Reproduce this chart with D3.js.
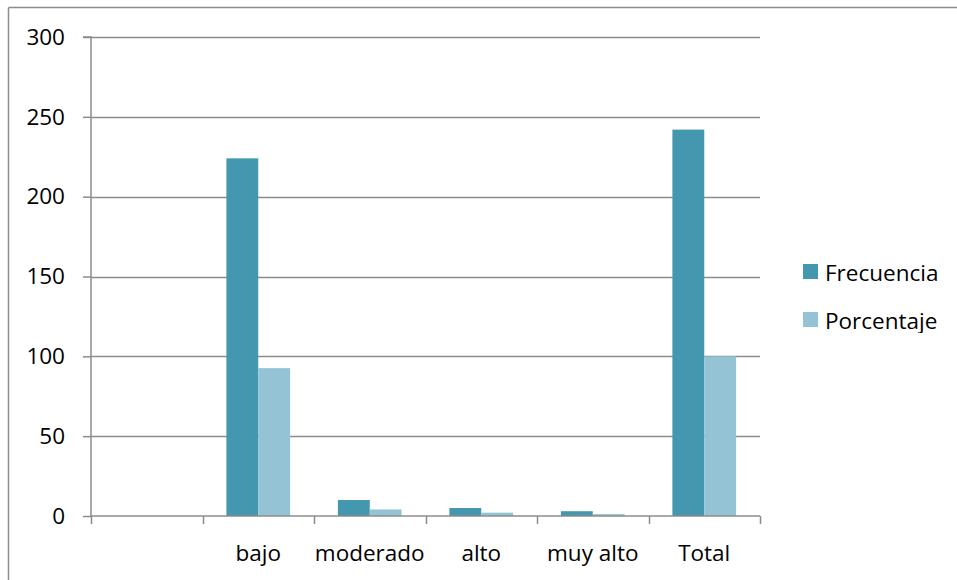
<!DOCTYPE html>
<html>
<head>
<meta charset="utf-8">
<script src="https://cdn.jsdelivr.net/npm/d3@7"></script>
<style>
  html, body { margin: 0; padding: 0; background: #fff; }
  svg { display: block; font-family: "Open Sans", "Noto Sans", sans-serif; }
</style>
</head>
<body>
<svg id="chart" width="957" height="580"></svg>
<script>
// Nivel categories (the first slot is an unlabeled empty row)
const categories = ["", "bajo", "moderado", "alto", "muy alto", "Total"];
const frecuencia = [0, 224, 10, 5, 3, 242];
const porcentaje = [0, 92.6, 4.1, 2.1, 1.2, 100];
const yTicks = [0, 50, 100, 150, 200, 250, 300];
const seriesNames = ["Frecuencia", "Porcentaje"];
const seriesColors = ["#4397ae", "#93c3d4"];

const FONT = 22.5;
const svg = d3.select("#chart");
const plot = { left: 91, right: 760, top: 37, bottom: 516 };

// Outer frame (top and left edges visible)
svg.append("line").attr("x1", 8.5).attr("x2", 957).attr("y1", 7.5).attr("y2", 7.5)
  .attr("stroke", "#8c8c8c").attr("stroke-width", 1.5);
svg.append("line").attr("x1", 8.5).attr("x2", 8.5).attr("y1", 7.5).attr("y2", 580)
  .attr("stroke", "#8c8c8c").attr("stroke-width", 1.5);

const x = d3.scaleBand().domain(categories.map((c, i) => i))
  .range([plot.left, plot.right]).paddingInner(0).paddingOuter(0);
const y = d3.scaleLinear().domain([0, 300]).range([plot.bottom, plot.top]);

// Horizontal gridlines
svg.append("g").selectAll("line").data(yTicks.filter(t => t > 0)).join("line")
  .attr("x1", plot.left).attr("x2", plot.right)
  .attr("y1", d => Math.round(y(d)) + 0.5).attr("y2", d => Math.round(y(d)) + 0.5)
  .attr("stroke", "#8c8c8c").attr("stroke-width", 1.5);

// Bars: two series per category, 150% gap between groups
const barW = x.bandwidth() / 3.5;
const groupOffset = (x.bandwidth() - 2 * barW) / 2;
const bars = svg.append("g");
[frecuencia, porcentaje].forEach((vals, s) => {
  bars.selectAll(null).data(vals.map((v, i) => ({ v, i }))).join("rect")
    .attr("x", d => x(d.i) + groupOffset + s * barW)
    .attr("width", barW)
    .attr("y", d => y(d.v))
    .attr("height", d => y(0) - y(d.v))
    .attr("fill", seriesColors[s]);
});

// Y axis
const yAxis = d3.axisLeft(y).tickValues(yTicks).tickSize(8).tickPadding(18);
const gy = svg.append("g").attr("transform", `translate(${plot.left},0)`).call(yAxis);
gy.select(".domain").attr("stroke", "#8c8c8c").attr("stroke-width", 1.5)
  .attr("d", `M-8,${plot.top}H0V${plot.bottom}`);
gy.selectAll(".tick line").attr("stroke", "#8c8c8c").attr("stroke-width", 1.5);
gy.selectAll(".tick text").attr("font-size", FONT).attr("fill", "#000")
  .attr("font-family", "'Open Sans', 'Noto Sans', sans-serif");

// X axis: ticks on category boundaries, labels centered in bands
const gx = svg.append("g").attr("transform", `translate(0,${plot.bottom})`);
gx.append("line").attr("x1", plot.left).attr("x2", plot.right).attr("y1", 0).attr("y2", 0)
  .attr("stroke", "#8c8c8c").attr("stroke-width", 1.5);
const bounds = categories.map((c, i) => x(i)).concat([plot.right]);
gx.selectAll("line.tk").data(bounds).join("line").attr("class", "tk")
  .attr("x1", d => Math.round(d) + 0.5).attr("x2", d => Math.round(d) + 0.5)
  .attr("y1", 0).attr("y2", 8)
  .attr("stroke", "#8c8c8c").attr("stroke-width", 1.5);
gx.selectAll("text").data(categories).join("text")
  .attr("x", (d, i) => x(i) + x.bandwidth() / 2)
  .attr("y", 45)
  .attr("text-anchor", "middle")
  .attr("font-size", FONT).attr("fill", "#000")
  .text(d => d);

// Legend (its box cuts off just below the second entry)
svg.append("clipPath").attr("id", "legendClip")
  .append("rect").attr("x", 790).attr("y", 250).attr("width", 167).attr("height", 83);
const legend = svg.append("g").attr("clip-path", "url(#legendClip)")
  .append("g").attr("transform", "translate(803,264)");
seriesNames.forEach((name, s) => {
  const g = legend.append("g").attr("transform", `translate(0,${s * 48})`);
  g.append("rect").attr("width", 15).attr("height", 15).attr("fill", seriesColors[s]);
  g.append("text").attr("x", 22).attr("y", 17).attr("font-size", FONT).attr("fill", "#000").text(name);
});
</script>
</body>
</html>
